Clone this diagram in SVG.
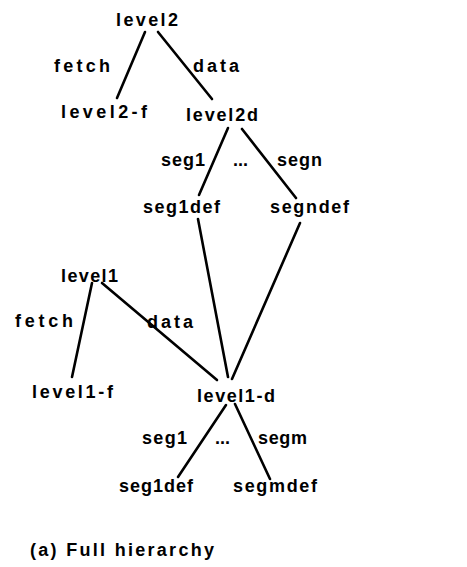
<svg xmlns="http://www.w3.org/2000/svg" width="467" height="567" viewBox="0 0 467 567">
  <style>
    text { font-family: "Liberation Sans", Arial, sans-serif; font-size: 18px; font-weight: bold; fill: #000; }
    .edge { stroke: #000; stroke-width: 2.6; stroke-linecap: round; fill: none; }
    .cap { font-size: 18px; }
  </style>
  <rect width="467" height="567" fill="#fff"/>

  <!-- tree edges -->
  <g id="connectors">
    <line class="edge" x1="145" y1="32" x2="117" y2="98"/>
    <line class="edge" x1="158" y1="32" x2="212" y2="99"/>
    <line class="edge" x1="228" y1="128" x2="199" y2="195"/>
    <line class="edge" x1="242" y1="129" x2="296" y2="198"/>
    <line class="edge" x1="198" y1="219" x2="228" y2="377"/>
    <line class="edge" x1="300" y1="223" x2="232" y2="379"/>
    <line class="edge" x1="92" y1="283" x2="72" y2="377"/>
    <line class="edge" x1="102" y1="283" x2="217" y2="380"/>
    <line class="edge" x1="226" y1="405" x2="178" y2="477"/>
    <line class="edge" x1="235" y1="404" x2="270" y2="479"/>
  </g>

  <!-- edge labels -->
  <g id="edge-labels">
    <text x="54" y="72" textLength="56" lengthAdjust="spacing">fetch</text>
    <text x="193" y="72" textLength="46" lengthAdjust="spacing">data</text>
    <text x="161" y="166" textLength="44" lengthAdjust="spacing">seg1</text>
    <text x="233" y="166" textLength="15" lengthAdjust="spacing">...</text>
    <text x="277" y="166" textLength="45" lengthAdjust="spacing">segn</text>
    <text x="15" y="327" textLength="58" lengthAdjust="spacing">fetch</text>
    <text x="147" y="328" textLength="46" lengthAdjust="spacing">data</text>
    <text x="142" y="444" textLength="45" lengthAdjust="spacing">seg1</text>
    <text x="215" y="444" textLength="15" lengthAdjust="spacing">...</text>
    <text x="258" y="444" textLength="49" lengthAdjust="spacing">segm</text>
  </g>

  <g id="level2"><text x="116" y="26" textLength="62" lengthAdjust="spacing">level2</text></g>
  <g id="level2-f"><text x="61" y="118" textLength="86" lengthAdjust="spacing">level2-f</text></g>
  <g id="level2d"><text x="186" y="121" textLength="72" lengthAdjust="spacing">level2d</text></g>
  <g id="seg1def-2"><text x="143" y="213" textLength="77" lengthAdjust="spacing">seg1def</text></g>
  <g id="segndef"><text x="270" y="213" textLength="79" lengthAdjust="spacing">segndef</text></g>
  <g id="level1"><text x="61" y="282" textLength="57" lengthAdjust="spacing">level1</text></g>
  <g id="level1-f"><text x="32" y="398" textLength="81" lengthAdjust="spacing">level1-f</text></g>
  <g id="level1-d"><text x="197" y="402" textLength="78" lengthAdjust="spacing">level1-d</text></g>
  <g id="seg1def-1"><text x="119" y="492" textLength="74" lengthAdjust="spacing">seg1def</text></g>
  <g id="segmdef"><text x="233" y="492" textLength="84" lengthAdjust="spacing">segmdef</text></g>

  <g id="caption"><text class="cap" x="30" y="556" textLength="184" lengthAdjust="spacing">(a) Full hierarchy</text></g>
</svg>
